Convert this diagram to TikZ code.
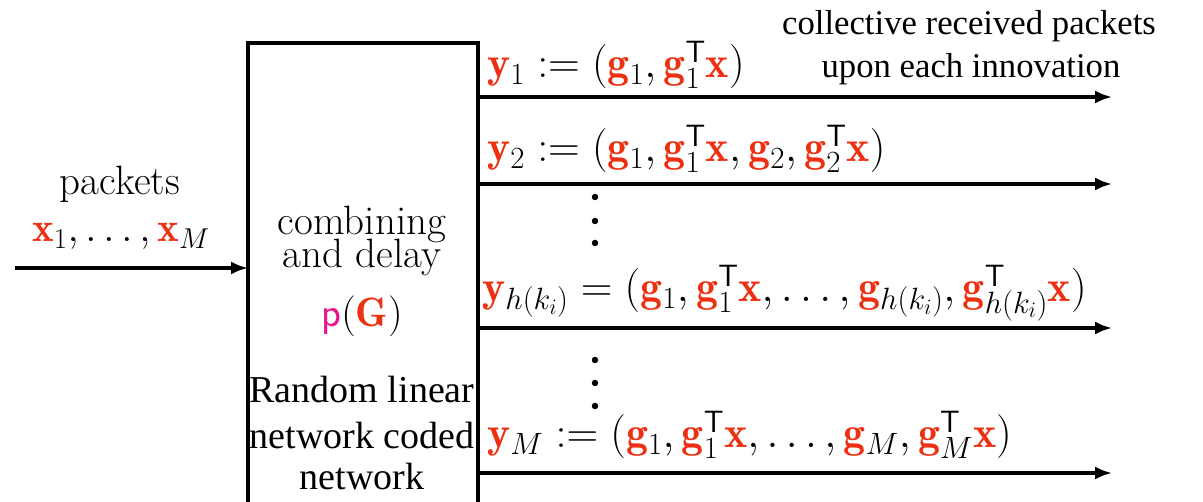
\RequirePackage{fix-cm}
\documentclass[tikz,border=0pt]{standalone}
\usepackage{fontspec}
\usepackage{amsmath}
\usetikzlibrary{arrows.meta}
\newfontfamily\tms{Liberation Serif}
\definecolor{nred}{RGB}{238,48,18}
\definecolor{nmag}{RGB}{232,20,140}
\newcommand{\rb}[1]{{\color{nred}\mathbf{#1}}}
\newcommand{\tT}{\mathsf{T}}
\begin{document}
\begin{tikzpicture}[x=1pt,y=-1pt,
  lbl/.style={anchor=base west,inner sep=0pt,font=\fontsize{44}{48}\selectfont},
  ctr/.style={anchor=base,inner sep=0pt,font=\fontsize{41}{44}\selectfont},
  tms/.style={anchor=base,inner sep=0pt,font=\fontsize{38}{42}\tms},
  arr/.style={line width=3.1pt,-{Latex[length=17pt,width=13pt]}},
  dotn/.style={circle,fill=black,inner sep=0pt,minimum size=6.5pt}]
\useasboundingbox (0,0) rectangle (1203,502);
\draw[line width=3.1pt] (248,508) -- (248,43) -- (478,43) -- (478,508);
% input
\coordinate (in) at (15,268);
\coordinate (bl) at (248,268);
\draw[arr] (in) -- (bl);
\node[ctr] (pk) at (120,195) {packets};
\node[ctr] (xs) at (121,242) {$\rb{x}_1,\ldots,\rb{x}_M$};
% box text
\node[ctr] (c1) at (362,235) {combining};
\node[ctr] (c2) at (362,268) {and delay};
\node[ctr] (pg) at (362,327) {$\textcolor{nmag}{\mathsf{p}}(\rb{G})$};
\node[tms] (r1) at (362,403) {Random linear};
\node[tms] (r2) at (362,449) {network coded};
\node[tms] (r3) at (362,490) {network};
% outputs
\foreach \n/\y in {a/97,b/184,c/328,d/473}{
  \coordinate (s\n) at (478,\y);
  \coordinate (e\n) at (1112,\y);
  \draw[arr] (s\n) -- (e\n);
}
\node[lbl] (l1) at (487,78) {$\rb{y}_1 := (\rb{g}_1,\rb{g}_1^{\tT}\rb{x})$};
\node[lbl] (l2) at (487,162) {$\rb{y}_2 := (\rb{g}_1,\rb{g}_1^{\tT}\rb{x},\rb{g}_2,\rb{g}_2^{\tT}\rb{x})$};
\node[lbl] (l3) at (482,302) {$\rb{y}_{h(k_i)} = (\rb{g}_1,\rb{g}_1^{\tT}\rb{x},\ldots,\rb{g}_{h(k_i)},\rb{g}_{h(k_i)}^{\tT}\rb{x})$};
\node[lbl] (l4) at (487,448) {$\rb{y}_M := (\rb{g}_1,\rb{g}_1^{\tT}\rb{x},\ldots,\rb{g}_M,\rb{g}_M^{\tT}\rb{x})$};
% dots
\foreach \i/\y in {1/197,2/221,3/243,4/360,5/383,6/406}{
  \node[dotn] (d\i) at (595,\y) {};
}
% top right
\node[tms,font=\fontsize{34.7}{38}\tms] (t1) at (969,35) {collective received packets};
\node[tms,font=\fontsize{34.7}{38}\tms] (t2) at (971,78) {upon each innovation};
\end{tikzpicture}
\end{document}
